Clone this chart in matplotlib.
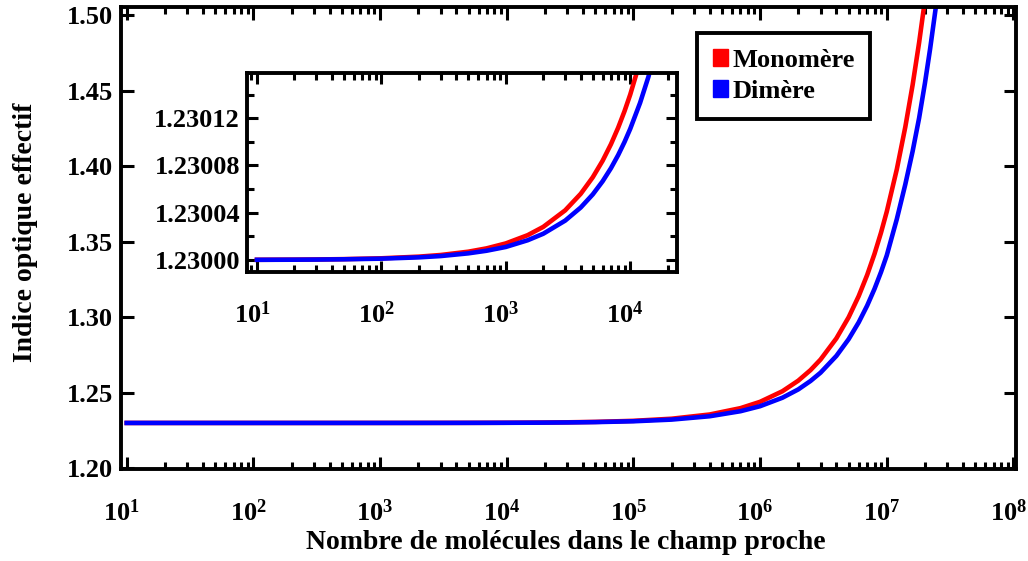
import numpy as np
import matplotlib
matplotlib.use("Agg")
import matplotlib.pyplot as plt
import matplotlib.transforms as mtransforms
from matplotlib.patches import Patch
from matplotlib.ticker import FixedLocator, LogLocator, NullFormatter, MultipleLocator, FormatStrFormatter

plt.rcParams['font.family'] = ['Liberation Serif', 'DejaVu Serif']
plt.rcParams['font.weight'] = 'bold'
plt.rcParams['axes.labelweight'] = 'bold'
plt.rcParams['mathtext.fontset'] = 'custom'
plt.rcParams['mathtext.rm'] = 'Liberation Serif:bold'
plt.rcParams['mathtext.it'] = 'Liberation Serif:bold'
plt.rcParams['mathtext.bf'] = 'Liberation Serif:bold'

# nombre de molécules
n_mol = [10, 20, 30, 50, 100, 200, 300, 500, 700, 1e3, 1.5e3, 2e3, 3e3, 4e3, 5e3,
         6e3, 7e3, 8e3, 9e3, 1e4, 1.2e4, 1.4e4, 1.7e4, 2e4, 3e4, 5e4, 1e5, 2e5,
         4e5, 7e5, 1e6, 1.5e6, 2e6, 2.5e6, 3e6, 4e6, 5e6, 6e6, 7e6, 8e6, 9e6,
         1e7, 1.2e7, 1.4e7, 1.6e7, 1.8e7, 2e7, 2.2e7, 2.5e7]

# indice effectif - monomère
n_mono = [1.23000014, 1.23000028, 1.23000042, 1.2300007, 1.2300014, 1.2300028,
          1.2300042, 1.230007, 1.2300098, 1.230014, 1.230021, 1.230028, 1.230042,
          1.230056, 1.23007, 1.230084, 1.230098, 1.230112, 1.230126, 1.23014,
          1.230168, 1.230196, 1.230238, 1.23028, 1.23042, 1.2307, 1.2314, 1.2328,
          1.2356, 1.2398, 1.244, 1.251, 1.258, 1.265, 1.272, 1.286, 1.300, 1.314,
          1.328, 1.342, 1.356, 1.370, 1.398, 1.426, 1.454, 1.482, 1.510, 1.538, 1.580]

# indice effectif - dimère
n_dim = [1.23000011, 1.23000022, 1.23000033, 1.23000056, 1.2300011, 1.2300022,
         1.2300033, 1.2300056, 1.2300078, 1.230011, 1.2300167, 1.2300222, 1.2300333,
         1.2300444, 1.2300555, 1.2300666, 1.2300777, 1.2300888, 1.2300999, 1.230111,
         1.230133, 1.230155, 1.230189, 1.230222, 1.230333, 1.230555, 1.23111, 1.23222,
         1.23444, 1.23777, 1.2411, 1.2467, 1.2522, 1.2578, 1.2633, 1.2744, 1.2855,
         1.2966, 1.3077, 1.3188, 1.3299, 1.341, 1.365, 1.388, 1.410, 1.432, 1.455,
         1.478, 1.512]

fig = plt.figure(figsize=(10.28, 5.61), dpi=100)
ax = fig.add_axes([121/1028, 1 - 469/561, (1016 - 121)/1028, (469 - 7)/561])

ax.plot(n_mol, n_mono, color='red', lw=3.3)
ax.plot(n_mol, n_dim, color='blue', lw=3.3)
ax.set_xscale('log')
ax.set_xlim(10**0.955, 10**8.02)
ax.set_ylim(1.1995, 1.5055)
ax.yaxis.set_major_locator(MultipleLocator(0.05))
ax.yaxis.set_major_formatter(FormatStrFormatter('%.2f'))
ax.xaxis.set_major_locator(FixedLocator([10.0**k for k in range(1, 9)]))
ax.xaxis.set_minor_locator(LogLocator(base=10, subs=np.arange(2, 10), numticks=20))
ax.xaxis.set_minor_formatter(NullFormatter())
ax.set_xticklabels([r'$10^{%d}$' % k for k in range(1, 9)])
ax.tick_params(which='both', direction='in', top=True, right=True, width=2.2, labelsize=19)
ax.tick_params(which='major', length=9)
ax.tick_params(which='minor', length=5)
ax.tick_params(axis='x', pad=22)
ax.tick_params(axis='y', pad=6)
for s in ax.spines.values():
    s.set_linewidth(2.8)
ax.set_xlabel('Nombre de molécules dans le champ proche', fontsize=20)
ax.set_ylabel('Indice optique effectif', fontsize=20)
ax.xaxis.set_label_coords(0.497, -0.132)
ax.yaxis.set_label_coords(-0.093, 0.513)

leg = ax.legend(handles=[Patch(color='red', label='Monomère'), Patch(color='blue', label='Dimère')],
                loc='upper left', bbox_to_anchor=((697 - 121)/895, 1 - (33 - 7)/462),
                fontsize=19, frameon=True, fancybox=False, framealpha=1,
                handlelength=0.58, handleheight=0.58, handletextpad=0.15,
                borderpad=0.6, labelspacing=0.3, borderaxespad=0)
leg.get_frame().set_edgecolor('black')
leg.get_frame().set_linewidth(2.8)

# encart
axi = fig.add_axes([247/1028, 1 - 272/561, (677 - 247)/1028, (272 - 73)/561])
axi.plot(n_mol, n_mono, color='red', lw=3.3)
axi.plot(n_mol, n_dim, color='blue', lw=3.3)
axi.set_xscale('log')
axi.set_xlim(10**0.92, 10**4.376)
axi.set_ylim(1.2299898, 1.2301583)
axi.yaxis.set_major_locator(FixedLocator([1.23, 1.23004, 1.23008, 1.23012]))
axi.yaxis.set_minor_locator(MultipleLocator(0.00002))
axi.yaxis.set_major_formatter(FormatStrFormatter('%.5f'))
axi.xaxis.set_major_locator(FixedLocator([10.0**k for k in range(1, 5)]))
axi.xaxis.set_minor_locator(LogLocator(base=10, subs=np.arange(2, 10), numticks=20))
axi.xaxis.set_minor_formatter(NullFormatter())
axi.set_xticklabels([r'$10^{%d}$' % k for k in range(1, 5)])
axi.tick_params(which='both', direction='in', top=True, right=True, width=2.2, labelsize=19)
axi.tick_params(which='major', length=8)
axi.tick_params(which='minor', length=5)
axi.tick_params(axis='x', pad=21)
axi.tick_params(axis='y', pad=5)
for s in axi.spines.values():
    s.set_linewidth(2.8)

# décalage des étiquettes 10^n vers la gauche
shift = mtransforms.ScaledTranslation(-5/100, 0, fig.dpi_scale_trans)
for a in (ax, axi):
    for lab in a.get_xticklabels():
        lab.set_transform(lab.get_transform() + shift)

fig.savefig('out.png', dpi=100)
